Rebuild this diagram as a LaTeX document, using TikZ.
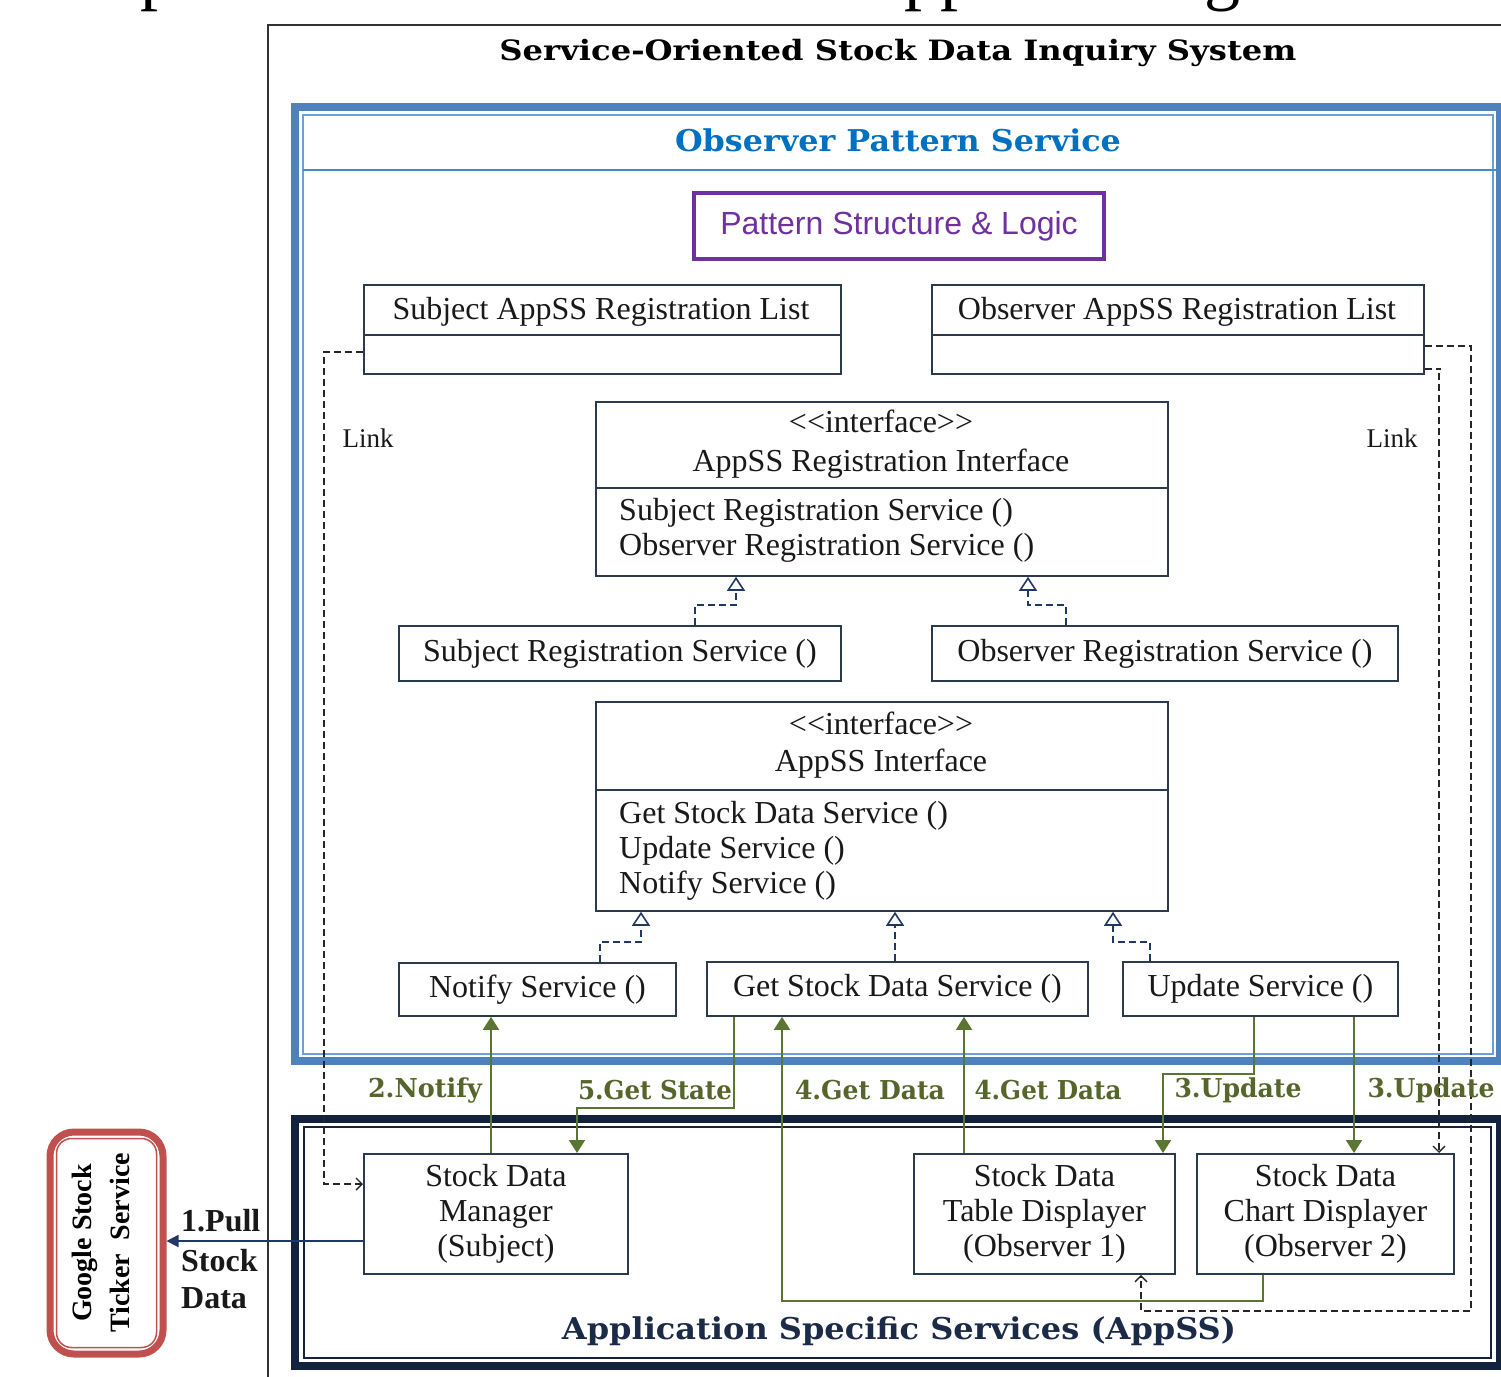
\documentclass[tikz,border=0pt]{standalone}
\usepackage{fontspec}
\usepackage{graphicx}
\setmainfont{Liberation Serif}
\newfontfamily\hdrfont{DejaVu Serif}
\newfontfamily\psfont{Liberation Sans}
\usetikzlibrary{arrows.meta}

\definecolor{boxc}{HTML}{2B3A4F}
\definecolor{navyc}{HTML}{1F3864}
\definecolor{grnc}{HTML}{5B7532}
\definecolor{grntxt}{HTML}{56662A}
\definecolor{bluec}{HTML}{4F81BD}
\definecolor{bluel}{HTML}{6C9FD8}
\definecolor{bluedv}{HTML}{3C8DD0}
\definecolor{titleblue}{HTML}{0070C0}
\definecolor{purp}{HTML}{7030A0}
\definecolor{appnavy}{HTML}{13233F}
\definecolor{apptxt}{HTML}{1B2A47}
\definecolor{redc}{HTML}{C0504D}

% bold slab heading, stretched to a given width
\newcommand\fitbold[3]{\resizebox{#1}{\height}{\hdrfont\bfseries\fontsize{#2}{#2}\selectfont #3}}

\begin{document}
\begin{tikzpicture}[x=1pt,y=-1pt,
  box/.style={draw=boxc,line width=1.8pt,fill=white,inner sep=0pt,anchor=north west,
              font=\fontsize{32}{35}\selectfont,align=center,text=black!90},
  lbl/.style={inner sep=0pt,font=\fontsize{32}{35}\selectfont,text=black!90},
  real/.style={draw=navyc,line width=1.6pt,dash pattern=on 7pt off 4pt,
               -{Triangle[open,length=14pt,width=18pt,line width=1.6pt]}},
  grn/.style={draw=grnc,line width=1.8pt,-{Triangle[length=13pt,width=16pt]}},
  lnk/.style={draw=black!85,line width=1.5pt,dash pattern=on 7pt off 4pt,
              -{Straight Barb[length=6pt,width=12pt,line width=1.4pt]}},
  glabel/.style={inner sep=0pt,text=grntxt}]

\useasboundingbox (0,0) rectangle (1501,1376);
\clip (0,0) rectangle (1501,1376);
\fill[white] (0,0) rectangle (1501,1376);

% descenders of the caption line above the figure
\node[anchor=base,inner sep=0pt,font=\fontsize{72}{72}\selectfont] (frag1) at (158,-4) {p};
\node[anchor=base,inner sep=0pt,font=\fontsize{72}{72}\selectfont] (frag2) at (940,-4) {pp};
\node[anchor=base,inner sep=0pt,font=\fontsize{72}{72}\selectfont] (frag3) at (1222,-4) {g};

% system frame
\draw[line width=2pt,black!80] (268,1390) -- (268,25) -- (1510,25);
\node[inner sep=0pt] (title) at (898,53) {\fitbold{797pt}{28}{Service-Oriented Stock Data Inquiry System}};

% observer pattern service frame
\draw[line width=8pt,bluec] (295,106.5) rectangle (1500,1061);
\draw[line width=2.5pt,bluel] (303,115) rectangle (1493,1054);
\draw[line width=2pt,bluedv] (303,170) -- (1497,170);
\node[inner sep=0pt,text=titleblue] (ops) at (898,140) {\fitbold{446pt}{30}{Observer Pattern Service}};

% application specific services frame
\draw[line width=8pt,appnavy] (295,1119) rectangle (1500,1366);
\draw[line width=2.5pt,appnavy] (304,1127) rectangle (1491,1358);
\node[inner sep=0pt,text=apptxt] (apps) at (899,1331) {\fitbold{674pt}{30}{Application Specific Services (AppSS)}};

% pattern structure heading
\node[draw=purp,line width=4pt,inner sep=0pt,anchor=north west,minimum width=410pt,minimum height=66pt,
      text=purp,font=\psfont\fontsize{32}{32}\selectfont] (psl) at (692,191) {Pattern Structure \& Logic};

% registration lists
\node[box,minimum width=477pt,minimum height=89pt] (sublist) at (363,284) {};
\draw[boxc,line width=1.8pt] ([yshift=-51pt]sublist.north west) -- ([yshift=-51pt]sublist.north east);
\node[lbl,anchor=base] (sublistT) at (601,319) {Subject AppSS Registration List};

\node[box,minimum width=492pt,minimum height=89pt] (obslist) at (931,284) {};
\draw[boxc,line width=1.8pt] ([yshift=-51pt]obslist.north west) -- ([yshift=-51pt]obslist.north east);
\node[lbl,anchor=base] (obslistT) at (1177,319) {Observer AppSS Registration List};

\node[lbl,anchor=base,font=\fontsize{27}{30}\selectfont] (linkL) at (368,447) {Link};
\node[lbl,anchor=base,font=\fontsize{27}{30}\selectfont] (linkR) at (1392,447) {Link};

% registration interface
\node[box,minimum width=572pt,minimum height=174pt] (regif) at (595,401) {};
\draw[boxc,line width=1.8pt] ([yshift=-87pt]regif.north west) -- ([yshift=-87pt]regif.north east);
\node[lbl,anchor=base] (regifS) at (881,432) {<\kern0pt<interface>\kern0pt>};
\node[lbl,anchor=base] (regifN) at (881,471) {AppSS Registration Interface};
\node[lbl,anchor=base west] (regifM1) at (619,520) {Subject Registration Service ()};
\node[lbl,anchor=base west] (regifM2) at (619,555) {Observer Registration Service ()};

\node[box,minimum width=442pt,minimum height=55pt] (subreg) at (398,625) {Subject Registration Service ()};
\node[box,minimum width=466pt,minimum height=55pt] (obsreg) at (931,625) {Observer Registration Service ()};

% AppSS interface
\node[box,minimum width=572pt,minimum height=209pt] (appif) at (595,701) {};
\draw[boxc,line width=1.8pt] ([yshift=-89pt]appif.north west) -- ([yshift=-89pt]appif.north east);
\node[lbl,anchor=base] (appifS) at (881,734) {<\kern0pt<interface>\kern0pt>};
\node[lbl,anchor=base] (appifN) at (881,771) {AppSS Interface};
\node[lbl,anchor=base west] (appifM1) at (619,823) {Get Stock Data Service ()};
\node[lbl,anchor=base west] (appifM2) at (619,858) {Update Service ()};
\node[lbl,anchor=base west] (appifM3) at (619,893) {Notify Service ()};

\node[box,minimum width=277pt,minimum height=53pt] (nsvc) at (398,962) {Notify Service ()};
\node[box,minimum width=381pt,minimum height=54pt] (gsvc) at (706,961) {Get Stock Data Service ()};
\node[box,minimum width=275pt,minimum height=54pt] (usvc) at (1122,961) {Update Service ()};

% application services
\node[box,minimum width=264pt,minimum height=120pt] (mgr) at (363,1153) {Stock Data\\Manager\\(Subject)};
\node[box,minimum width=261pt,minimum height=120pt] (tbl) at (913,1153) {Stock Data\\Table Displayer\\(Observer 1)};
\node[box,minimum width=257pt,minimum height=120pt] (cht) at (1196,1153) {Stock Data\\Chart Displayer\\(Observer 2)};

% external ticker service
\node[draw=redc,line width=7pt,rounded corners=24pt,inner sep=0pt,anchor=north west,
      minimum width=113pt,minimum height=222pt] (google) at (46.5,1128.5) {};
\draw[redc,line width=1.5pt,rounded corners=15pt]
  ([shift={(10pt,-10pt)}]google.north west) rectangle ([shift={(-10pt,10pt)}]google.south east);
\node[rotate=90,inner sep=0pt,align=center,font=\bfseries\fontsize{28}{38}\selectfont] (googleT)
  at ([xshift=-6pt]google.center) {Google Stock\\Ticker\ \ Service};

\node[lbl,anchor=base west,font=\bfseries\fontsize{32}{35}\selectfont] (pull1) at (181,1231) {1.Pull};
\node[lbl,anchor=base west,font=\bfseries\fontsize{32}{35}\selectfont] (pull2) at (181,1271) {Stock};
\node[lbl,anchor=base west,font=\bfseries\fontsize{32}{35}\selectfont] (pull3) at (181,1308) {Data};

\coordinate (pullsrc) at ([yshift=-88pt]mgr.north west);
\draw[navyc,line width=1.6pt,-{Triangle[length=12pt,width=12pt]}] (pullsrc) -- (pullsrc -| google.east);

% realization links
\draw[real] ([xshift=297pt]subreg.north west) -- ++(0,-20) -| ([xshift=141pt]regif.south west);
\draw[real] ([xshift=135pt]obsreg.north west) -- ++(0,-20) -| ([xshift=433pt]regif.south west);
\draw[real] ([xshift=202pt]nsvc.north west) -- ++(0,-20) -| ([xshift=46pt]appif.south west);
\draw[real] ([xshift=189pt]gsvc.north west) -- ([xshift=300pt]appif.south west);
\draw[real] ([xshift=28pt]usvc.north west) -- ++(0,-19) -| ([xshift=518pt]appif.south west);

% registration links
\draw[lnk] ([yshift=-68pt]sublist.north west) -- ++(-39,0) |- ([yshift=-31pt]mgr.north west);
\draw[lnk] ([yshift=-62pt]obslist.north east) -- ++(46,0) -- ++(0,965) -| ([xshift=228pt]tbl.south west);
\draw[lnk] ([yshift=-85pt]obslist.north east) -- ++(16,0) -| ([xshift=243pt]cht.north west);

% message flows
\draw[grn] ([xshift=128pt]mgr.north west) -- ([xshift=93pt]nsvc.south west);
\draw[grn] ([xshift=28pt]gsvc.south west) -- ++(0,91) -| ([xshift=214pt]mgr.north west);
\draw[grn] ([xshift=67pt]cht.south west) -- ++(0,26) -| ([xshift=76pt]gsvc.south west);
\draw[grn] ([xshift=51pt]tbl.north west) -- ([xshift=258pt]gsvc.south west);
\draw[grn] ([xshift=132pt]usvc.south west) -- ++(0,57) -| ([xshift=250pt]tbl.north west);
\draw[grn] ([xshift=232pt]usvc.south west) -- ([xshift=158pt]cht.north west);

\node[glabel] (l2) at (425,1090) {\fitbold{114pt}{26}{2.Notify}};
\node[glabel] (l5) at (655,1090) {\fitbold{154pt}{26}{5.Get State}};
\node[glabel] (l4a) at (870,1090) {\fitbold{150pt}{26}{4.Get Data}};
\node[glabel] (l4b) at (1048,1090) {\fitbold{147pt}{26}{4.Get Data}};
\node[glabel] (l3a) at (1238,1090) {\fitbold{127pt}{26}{3.Update}};
\node[glabel] (l3b) at (1431,1090) {\fitbold{127pt}{26}{3.Update}};

\end{tikzpicture}
\end{document}
